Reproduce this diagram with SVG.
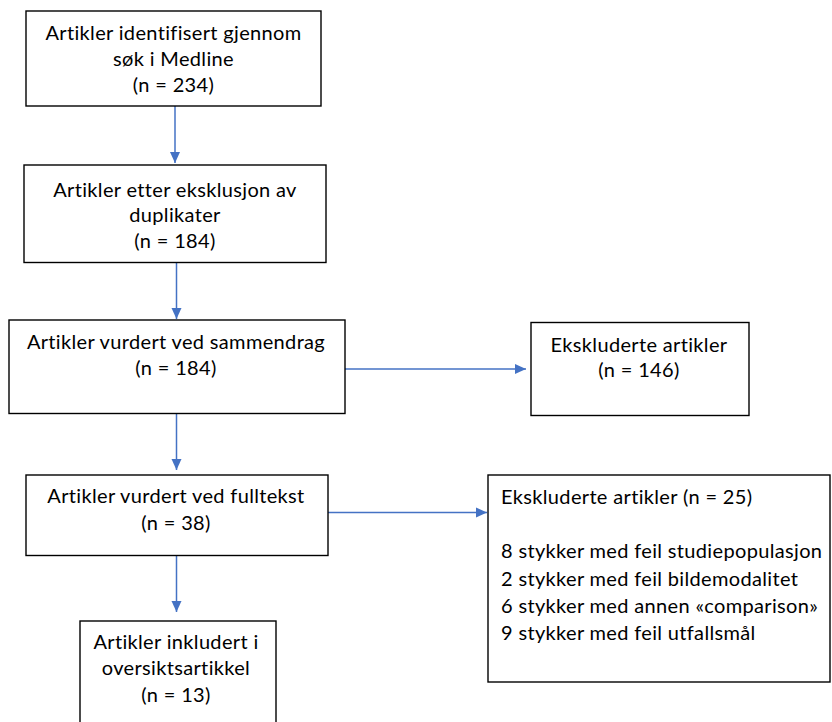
<svg xmlns="http://www.w3.org/2000/svg" width="832" height="722" viewBox="0 0 832 722">
<style>
.box{fill:#fff;stroke:#000;stroke-width:1.4}
.t{font-family:Lato,"Liberation Sans",sans-serif;font-size:20px;letter-spacing:0.34px;fill:#000}
.c{text-anchor:middle}
.conn{stroke:#4472C4;stroke-width:1.5;fill:none}
</style>
<defs>
<marker id="ah" markerUnits="userSpaceOnUse" markerWidth="12" markerHeight="12" viewBox="0 0 12 12" refX="11" refY="6" orient="auto">
<path d="M0,1 L11,6 L0,11 Z" fill="#4472C4"/>
</marker>
</defs>
<rect width="832" height="722" fill="#fff"/>
<g id="connectors">
<line class="conn" x1="175" y1="106" x2="175" y2="163" marker-end="url(#ah)"/>
<line class="conn" x1="176.5" y1="263" x2="176.5" y2="319" marker-end="url(#ah)"/>
<line class="conn" x1="176.5" y1="414" x2="176.5" y2="470" marker-end="url(#ah)"/>
<line class="conn" x1="176.5" y1="555" x2="176.5" y2="612" marker-end="url(#ah)"/>
<line class="conn" x1="345" y1="369" x2="526" y2="369" marker-end="url(#ah)"/>
<line class="conn" x1="328" y1="512.5" x2="487" y2="512.5" marker-end="url(#ah)"/>
</g>
<g id="n1">
<rect class="box" x="26" y="11" width="295" height="95"/>
<text class="t c" x="173.5" y="40">Artikler identifisert gjennom</text>
<text class="t c" x="173.5" y="66">søk i Medline</text>
<text class="t c" x="173.5" y="92">(n = 234)</text>
</g>
<g id="n2">
<rect class="box" x="24" y="165" width="302" height="97.5"/>
<text class="t c" x="175" y="197">Artikler etter eksklusjon av</text>
<text class="t c" x="175" y="222">duplikater</text>
<text class="t c" x="175" y="248">(n = 184)</text>
</g>
<g id="n3">
<rect class="box" x="9" y="320" width="336" height="93.5"/>
<text class="t c" x="176" y="349">Artikler vurdert ved sammendrag</text>
<text class="t c" x="176" y="375">(n = 184)</text>
</g>
<g id="n4">
<rect class="box" x="26" y="475" width="302" height="80.5"/>
<text class="t c" x="176" y="503">Artikler vurdert ved fulltekst</text>
<text class="t c" x="176" y="530">(n = 38)</text>
</g>
<g id="n5">
<rect class="box" x="80" y="621" width="196" height="120"/>
<text class="t c" x="176" y="649">Artikler inkludert i</text>
<text class="t c" x="176" y="675">oversiktsartikkel</text>
<text class="t c" x="176" y="702">(n = 13)</text>
</g>
<g id="n6">
<rect class="box" x="531" y="322.5" width="218" height="93"/>
<text class="t c" x="639" y="352">Ekskluderte artikler</text>
<text class="t c" x="639" y="377">(n = 146)</text>
</g>
<g id="n7">
<rect class="box" x="488" y="475" width="342" height="207"/>
<text class="t" x="501" y="504">Ekskluderte artikler (n = 25)</text>
<text class="t" x="501" y="558">8 stykker med feil studiepopulasjon</text>
<text class="t" x="501" y="585.5">2 stykker med feil bildemodalitet</text>
<text class="t" x="501" y="612.5">6 stykker med annen «comparison»</text>
<text class="t" x="501" y="640">9 stykker med feil utfallsmål</text>
</g>
</svg>
